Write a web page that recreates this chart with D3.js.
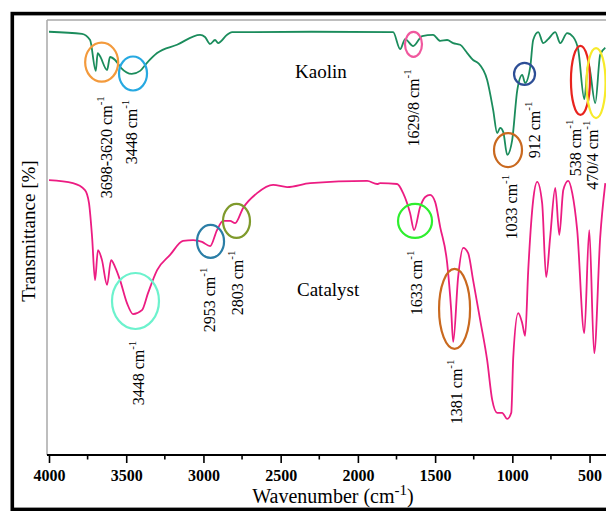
<!DOCTYPE html>
<html><head><meta charset="utf-8">
<script src="https://cdn.jsdelivr.net/npm/d3@7"></script>
<style>html,body{margin:0;padding:0;background:#fff;overflow:hidden}</style>
</head><body><svg id="chart" width="606" height="511"></svg>
<script>
// ---------- data ----------
const kaolinWavenumber = [4000,3786,3734,3697,3685,3670,3624,3605,3572,3534,3464,3410,3367,3300,3171,3022,2990,2957,2925,2905,2847,2815,2300,1772,1726,1694,1642,1584,1513,1467,1422,1383,1338,1292,1254,1221,1163,1124,1098,1079,1059,1033,1001,968,936,917,884,865,832,800,768,722,690,645,606,573,534,508,463,431,398];
const kaolinT = [97.3,96.8,95.4,88.3,92.4,91.7,88.5,91.5,90.8,89.0,87.6,88.3,90.1,92.4,94.3,96.6,96.1,94.5,95.4,94.7,96.6,97.2,97.3,97.2,93.3,95.6,94.0,96.3,96.6,95.2,95.4,94.7,94.3,92.4,90.8,90.1,86.2,79.3,74.0,75.2,74.3,69.0,72.4,83.9,87.4,85.5,89.2,95.4,97.2,94.7,95.6,97.2,94.7,97.0,96.1,93.1,81.8,90.1,80.9,92.0,93.6];
const catalystWavenumber = [4000,3845,3767,3741,3721,3702,3683,3657,3624,3598,3572,3540,3495,3456,3398,3359,3300,3216,3132,3067,3009,2957,2912,2873,2828,2795,2743,2653,2549,2458,2309,1940,1875,1856,1746,1707,1662,1636,1597,1564,1532,1500,1467,1422,1396,1383,1351,1318,1286,1254,1208,1163,1130,1098,1066,1033,1007,994,962,936,917,897,865,839,807,781,755,722,696,670,638,612,580,534,502,470,431,398];
const catalystT = [63.2,62.5,60.9,57.9,50.1,40.2,47.1,44.8,39.1,44.8,43.2,40.2,34.9,32.4,33.3,37.2,42.5,46.0,49.2,49.4,49.0,48.0,51.7,53.8,53.8,53.3,56.8,60.2,62.1,61.6,62.5,63.0,62.3,62.5,62.3,60.2,55.6,51.7,57.0,59.3,59.8,58.2,52.4,44.1,33.3,26.0,40.9,47.6,46.4,40.2,31.0,21.8,12.6,9.7,9.7,8.3,9.7,22.5,32.6,30.3,27.4,42.5,58.6,62.8,57.9,40.9,50.1,61.4,50.6,60.9,63.0,60.2,51.7,28.0,51.7,23.4,50.1,62.5];
const xTickValues = [4000,3500,3000,2500,2000,1500,1000,500];
const seriesNames = ["Kaolin","Catalyst"];
// annotations: label text, peak wavenumber, transmittance of marker centre
const annotLabels = ["3698-3620","3448","1629/8","1033","912","538","470/4","3448","2953","2803","1633","1381"];
const annotWavenumber = [3659,3456,1640,1028,921,559,458,3440,2954,2786,1630,1374];
const annotT = [90.3,87.7,94.4,70.1,87.6,86.1,85.5,35.4,49.1,53.8,53.8,33.6];

// ---------- layout / style ----------
const annotStyle = [
  {c:"#f39a3c", rx:16.5, ry:19.5, dx:4, dy:85},
  {c:"#27a9e1", rx:14, ry:17, dx:-2, dy:58.5},
  {c:"#f0589e", rx:8.5, ry:12.5, dx:0, dy:63.5},
  {c:"#c9691f", rx:14, ry:17, dx:3, dy:57},
  {c:"#2d4e96", rx:10.5, ry:11, dx:9.5, dy:56},
  {c:"#e8231e", rx:9.5, ry:34.5, dx:-5.5, dy:67.5},
  {c:"#f7ea2a", rx:9.5, ry:35, dx:-4, dy:72},
  {c:"#6cf2cd", rx:23.5, ry:28, dx:2.5, dy:72},
  {c:"#2b7ea6", rx:13.5, ry:16.5, dx:-1.5, dy:58.5},
  {c:"#7f9a2c", rx:13.5, ry:17, dx:0.5, dy:62},
  {c:"#2fee2f", rx:17, ry:17, dx:1, dy:62},
  {c:"#c9691f", rx:15.5, ry:40, dx:1.5, dy:83}
];
const FONT = "'Liberation Serif','Times New Roman',serif";
const svg = d3.select("#chart");
const mL = 49, mR = 605, mT = 20, mB = 455;
const x = d3.scaleLinear().domain([4000,400]).range([mL,mR]);
const y = d3.scaleLinear().domain([0,100]).range([mB,mT]);

// outer frame
svg.append("rect").attr("x",12.3).attr("y",13.6).attr("width",700).attr("height",495.8)
  .attr("fill","none").attr("stroke","#000").attr("stroke-width",3.6);
// plot frame (gray)
svg.append("line").attr("x1",47).attr("x2",610).attr("y1",mT).attr("y2",mT).attr("stroke","#a8a8a8").attr("stroke-width",1.5);
svg.append("line").attr("x1",47).attr("x2",47).attr("y1",mT).attr("y2",mB).attr("stroke","#a8a8a8").attr("stroke-width",1.5);

// x axis
const xAxis = d3.axisBottom(x).tickValues(xTickValues).tickSize(8).tickFormat(d3.format("d"));
const gx = svg.append("g").attr("transform",`translate(0,${mB})`).call(xAxis);
gx.select(".domain").attr("d",`M47,0H610`).attr("stroke","#000").attr("stroke-width",2);
gx.selectAll(".tick line").attr("stroke","#000").attr("stroke-width",1.6);
gx.selectAll(".tick text").attr("font-family",FONT).attr("font-weight","bold").attr("font-size",16).attr("fill","#000").attr("dy","0.95em");
const minor = d3.range(3750,300,-500);
gx.selectAll(".minor").data(minor).enter().append("line")
  .attr("x1",d=>x(d)).attr("x2",d=>x(d)).attr("y1",0).attr("y2",4.5).attr("stroke","#000").attr("stroke-width",1.6);

// axis titles
const xt = svg.append("text").attr("x",333).attr("y",503).attr("text-anchor","middle")
  .attr("font-family",FONT).attr("font-size",20).attr("fill","#000");
xt.append("tspan").text("Wavenumber (cm");
xt.append("tspan").attr("dy",-8).attr("font-size",15).text("-1");
xt.append("tspan").attr("dy",8).text(")");
svg.append("text").attr("transform","translate(35,231) rotate(-90)").attr("text-anchor","middle")
  .attr("font-family",FONT).attr("font-size",19).attr("fill","#000").text("Transmittance [%]");

// curves
const line = d3.line().x(d=>x(d[0])).y(d=>y(d[1])).curve(d3.curveMonotoneX);
const defs = svg.append("defs");
defs.append("clipPath").attr("id","clip").append("rect").attr("x",mL-2).attr("y",mT).attr("width",mR-mL+4).attr("height",mB-mT);
const plot = svg.append("g").attr("clip-path","url(#clip)");
plot.append("path").datum(d3.zip(kaolinWavenumber,kaolinT)).attr("d",line)
  .attr("fill","none").attr("stroke","#1b8c5c").attr("stroke-width",1.8);
plot.append("path").datum(d3.zip(catalystWavenumber,catalystT)).attr("d",line)
  .attr("fill","none").attr("stroke","#ec1c82").attr("stroke-width",1.8);

// series names
svg.append("text").attr("x",295).attr("y",78).attr("font-family",FONT).attr("font-size",19).attr("fill","#000").text(seriesNames[0]);
svg.append("text").attr("x",297).attr("y",296).attr("font-family",FONT).attr("font-size",19).attr("fill","#000").text(seriesNames[1]);

// annotations
annotLabels.forEach((lab,i)=>{
  const s = annotStyle[i];
  const cx = x(annotWavenumber[i]), cy = y(annotT[i]);
  svg.append("ellipse").attr("cx",cx).attr("cy",cy).attr("rx",s.rx).attr("ry",s.ry)
    .attr("fill","none").attr("stroke",s.c).attr("stroke-width",2.2);
  const t = svg.append("text").attr("transform",`translate(${cx+s.dx},${cy+s.dy}) rotate(-90)`)
    .attr("text-anchor","middle").attr("dominant-baseline","central")
    .attr("font-family",FONT).attr("font-size",16).attr("fill","#000");
  t.append("tspan").text(lab+" cm");
  t.append("tspan").attr("dy",-6).attr("font-size",11).text("-1");
});
</script></body></html>
